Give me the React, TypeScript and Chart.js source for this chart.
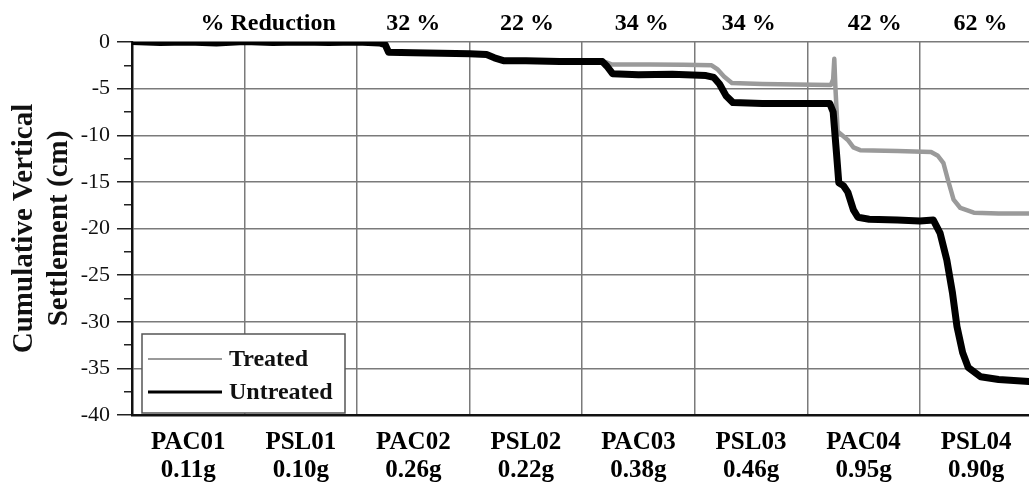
import React, { useEffect, useRef } from "react";
import { Chart, registerables } from "chart.js";

Chart.register(...registerables);

const FONT = '"Liberation Serif", "Times New Roman", Times, serif';

// Bottom category labels (one per shaking event)
const groundMotions = ["PAC01", "PSL01", "PAC02", "PSL02", "PAC03", "PSL03", "PAC04", "PSL04"];
const pgaLabels = ["0.11g", "0.10g", "0.26g", "0.22g", "0.38g", "0.46g", "0.95g", "0.90g"];

// Bottom axis tick values: integers = gridlines between events, halves = event labels
const xTickValues = [0, 0.5, 1, 1.5, 2, 2.5, 3, 3.5, 4, 4.5, 5, 5.5, 6, 6.5, 7, 7.5];

// Top labels (% reduction)
const reductionLabels = ["% Reduction", "32 %", "22 %", "34 %", "34 %", "42 %", "62 %"];
const reductionPositions = [1.21, 2.5, 3.51, 4.53, 5.48, 6.6, 7.54];

// Y axis ticks (major every 5, minor every 2.5)
const yTickValues = [-40, -37.5, -35, -32.5, -30, -27.5, -25, -22.5, -20, -17.5, -15, -12.5, -10, -7.5, -5, -2.5, 0];

// Untreated series
const untreatedX = [0, 0.25, 0.5, 0.75, 1.0, 1.25, 1.5, 1.75, 2.0, 2.2, 2.25, 2.28, 2.5, 2.75, 3.0, 3.15, 3.22, 3.3, 3.5, 3.8, 4.18, 4.22, 4.27, 4.5, 4.8, 5.1, 5.17, 5.22, 5.28, 5.34, 5.6, 5.9, 6.2, 6.23, 6.26, 6.28, 6.32, 6.36, 6.41, 6.45, 6.55, 6.8, 7.0, 7.12, 7.18, 7.24, 7.29, 7.33, 7.38, 7.43, 7.54, 7.7, 7.97];
const untreatedY = [0.05, -0.05, 0.0, -0.1, 0.05, -0.05, 0.0, -0.05, 0.0, -0.1, -0.3, -1.1, -1.15, -1.2, -1.25, -1.35, -1.7, -2.0, -2.0, -2.1, -2.1, -2.6, -3.4, -3.5, -3.45, -3.6, -3.8, -4.5, -5.8, -6.5, -6.6, -6.6, -6.6, -7.5, -12.0, -15.1, -15.4, -16.1, -18.0, -18.8, -19.0, -19.1, -19.2, -19.1, -20.5, -23.4, -26.9, -30.5, -33.3, -34.9, -35.9, -36.2, -36.4];

// Treated series
const treatedX = [0, 0.25, 0.5, 0.75, 1.0, 1.25, 1.5, 1.75, 2.0, 2.2, 2.25, 2.28, 2.5, 2.75, 3.0, 3.15, 3.22, 3.3, 3.5, 3.8, 4.18, 4.22, 4.26, 4.6, 4.9, 5.15, 5.2, 5.26, 5.33, 5.6, 5.9, 6.21, 6.23, 6.24, 6.25, 6.27, 6.31, 6.36, 6.41, 6.47, 6.8, 7.1, 7.16, 7.21, 7.25, 7.3, 7.36, 7.48, 7.7, 7.97];
const treatedY = [0.05, -0.05, 0.0, -0.1, 0.05, -0.05, 0.0, -0.05, 0.0, -0.1, -0.3, -1.1, -1.15, -1.2, -1.25, -1.35, -1.7, -2.0, -2.0, -2.1, -2.1, -2.2, -2.4, -2.4, -2.45, -2.5, -2.9, -3.7, -4.4, -4.5, -4.55, -4.6, -4.0, -1.8, -4.9, -9.6, -10.0, -10.5, -11.3, -11.6, -11.7, -11.8, -12.2, -13.0, -14.8, -16.9, -17.8, -18.3, -18.4, -18.4];

const insideLegend = {
  id: "insideLegend",
  afterDraw(chart: any) {
    const { ctx, chartArea } = chart;
    const x = chartArea.left + 10;
    const w = 203;
    const h = 79;
    const y = chartArea.bottom - 2 - h;
    ctx.save();
    ctx.fillStyle = "#ffffff";
    ctx.fillRect(x, y, w, h);
    ctx.strokeStyle = "#555555";
    ctx.lineWidth = 1.5;
    ctx.strokeRect(x, y, w, h);
    chart.data.datasets.forEach((ds: any, i: number) => {
      const cy = y + 25 + i * 33;
      ctx.strokeStyle = ds.borderColor;
      ctx.lineWidth = i === 0 ? 2 : 3;
      ctx.beginPath();
      ctx.moveTo(x + 6, cy);
      ctx.lineTo(x + 80, cy);
      ctx.stroke();
      ctx.fillStyle = "#111111";
      ctx.font = `bold 24px ${FONT}`;
      ctx.textAlign = "left";
      ctx.textBaseline = "middle";
      ctx.fillText(ds.label, x + 87, cy + 1);
    });
    ctx.restore();
  },
};

export default function App() {
  const canvasRef = useRef<HTMLCanvasElement | null>(null);

  useEffect(() => {
    if (!canvasRef.current) return;
    const chart = new Chart(canvasRef.current, {
      type: "line",
      data: {
        datasets: [
          {
            label: "Treated",
            data: treatedX.map((x, i) => ({ x, y: treatedY[i] })),
            borderColor: "#9a9a9a",
            borderWidth: 4.5,
            pointRadius: 0,
            tension: 0,
            order: 2,
            xAxisID: "x",
            yAxisID: "y",
          },
          {
            label: "Untreated",
            data: untreatedX.map((x, i) => ({ x, y: untreatedY[i] })),
            borderColor: "#000000",
            borderWidth: 7,
            pointRadius: 0,
            tension: 0,
            order: 1,
            xAxisID: "x",
            yAxisID: "y",
          },
        ],
      },
      options: {
        animation: false,
        responsive: true,
        maintainAspectRatio: false,
        layout: { padding: 0 },
        plugins: { legend: { display: false }, tooltip: { enabled: false } },
        elements: { line: { borderJoinStyle: "round", borderCapStyle: "round" } },
        scales: {
          x: {
            type: "linear",
            position: "bottom",
            min: 0,
            max: 7.97,
            afterBuildTicks: (s: any) => {
              s.ticks = xTickValues.map((v) => ({ value: v }));
            },
            afterFit: (s: any) => {
              s.height = 76;
            },
            grid: {
              color: (c: any) =>
                c.tick && Number.isInteger(c.tick.value) ? "#7a7a7a" : "rgba(0,0,0,0)",
              lineWidth: 1.5,
              drawTicks: false,
            },
            border: { color: "#111111", width: 2.5 },
            ticks: {
              autoSkip: false,
              maxRotation: 0,
              minRotation: 0,
              padding: 13,
              color: "#000000",
              font: { family: FONT, size: 25, weight: "bold", lineHeight: 1.14 },
              callback: (_v: any, i: number) => {
                if (i % 2 === 0) return "";
                const k = (i - 1) / 2;
                return [groundMotions[k], pgaLabels[k]];
              },
            },
          },
          xTop: {
            type: "linear",
            position: "top",
            min: 0,
            max: 7.97,
            afterBuildTicks: (s: any) => {
              s.ticks = reductionPositions.map((v) => ({ value: v }));
            },
            afterFit: (s: any) => {
              s.height = 42;
            },
            grid: { display: false, drawTicks: false },
            border: { display: false },
            ticks: {
              autoSkip: false,
              maxRotation: 0,
              minRotation: 0,
              padding: 4,
              color: "#000000",
              font: { family: FONT, size: 24, weight: "bold", lineHeight: 1.2 },
              callback: (_v: any, i: number) => reductionLabels[i],
            },
          },
          y: {
            type: "linear",
            position: "left",
            min: -40,
            max: 0,
            afterBuildTicks: (s: any) => {
              s.ticks = yTickValues.map((v) => ({ value: v }));
            },
            afterFit: (s: any) => {
              s.width = 132;
            },
            grid: {
              color: (c: any) =>
                c.tick && c.tick.value % 5 === 0 ? "#7a7a7a" : "rgba(0,0,0,0)",
              lineWidth: 1.5,
              drawTicks: true,
              tickLength: 15,
              tickColor: "#222222",
              tickWidth: 1.5,
              tickBorderDash: (c: any) =>
                c.tick && c.tick.value % 5 === 0 ? [] : [0, 7, 8, 100],
            },
            border: { color: "#111111", width: 2.5 },
            ticks: {
              autoSkip: false,
              padding: 7,
              color: "#111111",
              font: { family: FONT, size: 22 },
              callback: (v: any) => (Number(v) % 5 === 0 ? String(v) : ""),
            },
            title: {
              display: true,
              text: ["Cumulative Vertical", "Settlement (cm)"],
              color: "#111111",
              font: { family: FONT, size: 29, weight: "bold", lineHeight: 1.2 },
              padding: { top: 7, bottom: 0 },
            },
          },
        },
      } as any,
      plugins: [insideLegend],
    });
    return () => chart.destroy();
  }, []);

  return (
    <div
      style={{
        position: "fixed",
        left: 0,
        top: 0,
        width: 1029,
        height: 491,
        background: "#ffffff",
      }}
    >
      <canvas ref={canvasRef} />
    </div>
  );
}
